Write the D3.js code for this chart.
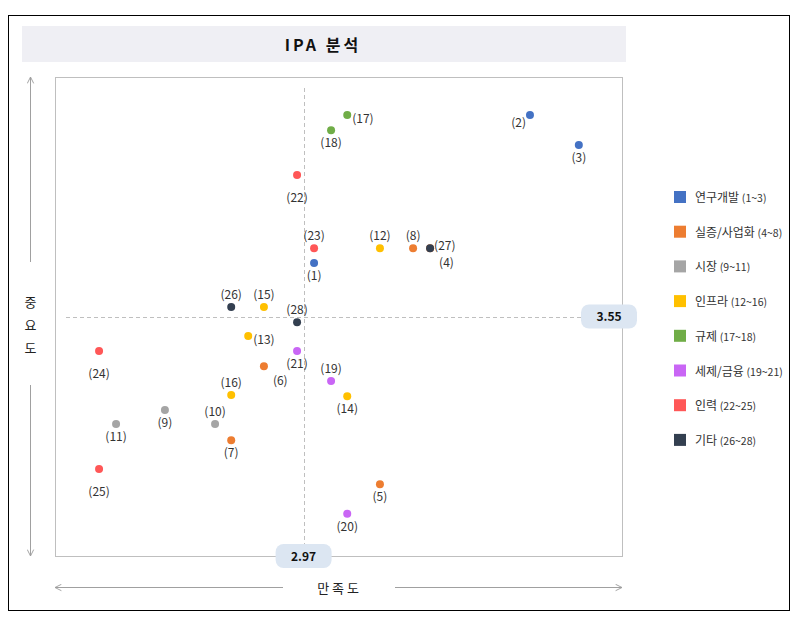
<!DOCTYPE html>
<html><head><meta charset="utf-8">
<script src="https://cdn.jsdelivr.net/npm/d3@7"></script>
<style>body{margin:0;background:#fff}svg{display:block}text{font-family:"Noto Sans CJK KR","Noto Sans",sans-serif}</style>
</head><body><svg id="c" width="799" height="618"></svg>
<script>
// ---- data ----
const ids   = [1,2,3,4,5,6,7,8,9,10,11,12,13,14,15,16,17,18,19,20,21,22,23,24,25,26,27,28];
const group = [0,0,0,1,1,1,1,1,2,2,2,3,3,3,3,3,4,4,5,5,5,6,6,6,6,7,7,7];
const satisfaction = [2.994,3.489,3.601,3.260,3.145,2.879,2.804,3.221,2.652,2.767,2.540,3.145,2.843,3.070,2.879,2.804,3.070,3.033,3.033,3.070,2.955,2.955,2.994,2.501,2.501,2.804,3.260,2.955];
const importance   = [3.673,4.013,3.944,3.707,3.165,3.436,3.266,3.707,3.335,3.303,3.303,3.707,3.505,3.367,3.572,3.370,4.013,3.978,3.402,3.097,3.471,3.875,3.707,3.471,3.200,3.572,3.707,3.537];
const groupNames  = ["연구개발","실증/사업화","시장","인프라","규제","세제/금융","인력","기타"];
const groupRanges = ["(1~3)","(4~8)","(9~11)","(12~16)","(17~18)","(19~21)","(22~25)","(26~28)"];
const groupColors = ["#4472C4","#ED7D31","#A5A5A5","#FFC000","#70AD47","#C966F5","#FF5757","#333F50"];
const meanX = 2.97, meanY = 3.55;
const title = "IPA 분석", xTitle = "만 족 도", yTitle = ["중","요","도"];
// label placement (layout only): b=below, bb=far below, a=above, r=right, rl=right-low, l=left, br=below-right
const labelPos = ["b","l","b","br","b","br","b","a","b","a","b","a","rl","b","a","a","rl","b","a","b","b","bb","a","bb","bb","a","r","a"];

// ---- layout ----
const svg = d3.select("#c");
svg.append("rect").attr("x",8.5).attr("y",15.5).attr("width",781).attr("height",595).attr("fill","#fff").attr("stroke","#000");
svg.append("rect").attr("x",22).attr("y",26).attr("width",604).attr("height",36).attr("fill","#EFEFF4");
svg.append("text").attr("x",323).attr("y",51).attr("text-anchor","middle").attr("font-size",16).attr("font-weight","bold")
  .attr("letter-spacing","3px").attr("fill","#111").text(title);

const L=55, R=622, T=77, B=556;
const x = d3.scaleLinear().domain([2.4,3.7]).range([L,R]);
const y = d3.scaleLinear().domain([3.0,4.1]).range([B,T]);

svg.append("rect").attr("x",L+0.5).attr("y",T+0.5).attr("width",R-L).attr("height",B-T).attr("fill","none").attr("stroke","#BFBFBF");

// mean lines
svg.append("line").attr("x1",L+11).attr("x2",R-40).attr("y1",Math.round(y(meanY))+0.5).attr("y2",Math.round(y(meanY))+0.5)
  .attr("stroke","#BFBFBF").attr("stroke-dasharray","4,3");
svg.append("line").attr("x1",Math.round(x(meanX))+0.5).attr("x2",Math.round(x(meanX))+0.5).attr("y1",T+11).attr("y2",B-10)
  .attr("stroke","#BFBFBF").attr("stroke-dasharray","4,3");

// axis arrows
const defs = svg.append("defs");
defs.append("marker").attr("id","ah").attr("viewBox","0 0 10 10").attr("refX",9).attr("refY",5)
  .attr("markerWidth",8).attr("markerHeight",8).attr("orient","auto-start-reverse")
  .append("path").attr("d","M1,1 L9,5 L1,9").attr("fill","none").attr("stroke","#A0A0A0").attr("stroke-width",1.2);
const ax = 30;
svg.append("line").attr("x1",ax+0.5).attr("x2",ax+0.5).attr("y1",T).attr("y2",262).attr("stroke","#A0A0A0").attr("marker-start","url(#ah)");
svg.append("line").attr("x1",ax+0.5).attr("x2",ax+0.5).attr("y1",385).attr("y2",B).attr("stroke","#A0A0A0").attr("marker-end","url(#ah)");
yTitle.forEach((t,i)=>svg.append("text").attr("x",ax+0.5).attr("y",307+i*23).attr("text-anchor","middle").attr("font-size",13).attr("fill","#222").text(t));
const ay = 587;
svg.append("line").attr("x1",L).attr("x2",283).attr("y1",ay+0.5).attr("y2",ay+0.5).attr("stroke","#A0A0A0").attr("marker-start","url(#ah)");
svg.append("line").attr("x1",395).attr("x2",R).attr("y1",ay+0.5).attr("y2",ay+0.5).attr("stroke","#A0A0A0").attr("marker-end","url(#ah)");
svg.append("text").attr("x",338).attr("y",593).attr("text-anchor","middle").attr("font-size",13).attr("fill","#222").text(xTitle);

// pills
function pill(cx,cy,txt){
  svg.append("rect").attr("x",cx-28).attr("y",cy-12).attr("width",56).attr("height",24).attr("rx",8).attr("fill","#DCE6F2");
  svg.append("text").attr("x",cx).attr("y",cy+4.5).attr("text-anchor","middle").attr("font-size",12).attr("font-weight","bold").attr("fill","#111").text(txt);
}
pill(609, y(meanY), d3.format(".2f")(meanY));
pill(x(meanX), B, d3.format(".2f")(meanX));

// points & labels
const data = ids.map((id,i)=>({id,g:group[i],sx:satisfaction[i],iy:importance[i],p:labelPos[i]}));
const off = {b:[0,17,"middle"],bb:[0,27,"middle"],a:[0,-8,"middle"],r:[4,2,"start"],rl:[5,8,"start"],l:[-4,12,"end"],br:[9,19,"start"]};
const order = data.slice().sort((a,b)=>a.id===4?-1:b.id===4?1:0);
svg.append("g").selectAll("circle").data(order).join("circle")
  .attr("cx",d=>x(d.sx)).attr("cy",d=>y(d.iy)).attr("r",4).attr("fill",d=>groupColors[d.g]);
svg.append("g").selectAll("text").data(data).join("text")
  .attr("x",d=>x(d.sx)+off[d.p][0]).attr("y",d=>y(d.iy)+off[d.p][1]).attr("text-anchor",d=>off[d.p][2])
  .attr("font-size",12).attr("fill","#333").text(d=>"("+d.id+")");

// legend
const lg = svg.append("g");
groupNames.forEach((n,i)=>{
  const yy = 197 + i*34.7;
  lg.append("rect").attr("x",674).attr("y",yy-6).attr("width",12).attr("height",12).attr("fill",groupColors[i]);
  const t = lg.append("text").attr("x",695).attr("y",yy+5).attr("font-size",12).attr("fill","#333");
  t.append("tspan").text(n+" ");
  t.append("tspan").attr("font-size",10.5).text(groupRanges[i]);
});
</script></body></html>
